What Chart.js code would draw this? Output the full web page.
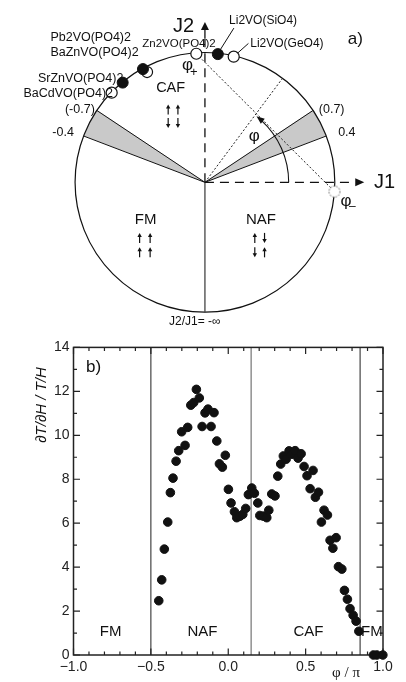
<!DOCTYPE html>
<html>
<head>
<meta charset="utf-8">
<script src="https://cdn.jsdelivr.net/npm/chart.js@4.4.1/dist/chart.umd.min.js"></script>
<style>
  html, body { margin: 0; padding: 0; background: #fff; }
  #wrap { position: relative; width: 406px; height: 682px; overflow: hidden; }
  canvas { position: absolute; left: 0; }
  #top { top: 0; }
  #bottom { top: 335px; }
</style>
</head>
<body>
<div id="wrap">
  <canvas id="top" width="406" height="335"></canvas>
  <canvas id="bottom" width="406" height="347"></canvas>
</div>
<script>
// ---- panel a) : compounds on the J1-J2 circle (angle in degrees from the J1 axis)
const compoundNames = ['Zn2VO(PO4)2', 'Li2VO(SiO4)', 'Li2VO(GeO4)', 'Pb2VO(PO4)2', 'BaZnVO(PO4)2', 'SrZnVO(PO4)2', 'BaCdVO(PO4)2'];
const compoundAngle = [93.8, 84.3, 77.2, 118.5, 117.5, 129.3, 135.9];
const compoundRadius = [1, 1, 1, 1, 0.965, 1, 1];
const compoundFilled = [false, true, false, true, false, true, false];
const wedgeRatio = [0.385, 0.67];          // J2/J1 edges of the grey sectors
const wedgeLabels = ['0.4', '(0.7)', '-0.4', '(-0.7)'];
const phiAngle = 53.5;
const phiPlusAngle = 93.8;
const phiMinusAngle = -4.1;

// ---- panel b) : response vs phi / pi
const phiOverPi = [-0.449, -0.430, -0.413, -0.391, -0.374, -0.357, -0.337, -0.320, -0.301, -0.279,
  -0.262, -0.242, -0.223, -0.206, -0.187, -0.169, -0.150, -0.131, -0.111, -0.092,
  -0.074, -0.057, -0.038, -0.019, 0.001, 0.018, 0.040, 0.055, 0.076, 0.094,
  0.113, 0.130, 0.152, 0.169, 0.191, 0.204, 0.227, 0.249, 0.262, 0.281,
  0.302, 0.320, 0.339, 0.356, 0.374, 0.393, 0.412, 0.432, 0.451, 0.471,
  0.490, 0.509, 0.529, 0.548, 0.563, 0.583, 0.602, 0.619, 0.641, 0.658,
  0.676, 0.697, 0.712, 0.734, 0.751, 0.770, 0.787, 0.807, 0.826, 0.844,
  0.938, 0.960, 0.999];
const dTdH = [2.47, 3.42, 4.82, 6.05, 7.39, 8.05, 8.82, 9.30, 10.16, 9.54,
  10.36, 11.37, 11.49, 12.09, 11.70, 10.40, 11.02, 11.19, 10.40, 11.03,
  9.74, 8.70, 8.55, 9.09, 7.54, 6.92, 6.52, 6.25, 6.32, 6.40,
  6.67, 7.30, 7.60, 7.36, 6.92, 6.35, 6.32, 6.25, 6.59, 7.33,
  7.24, 8.14, 8.69, 9.06, 8.91, 9.29, 9.14, 9.30, 8.96, 9.16,
  8.58, 8.16, 7.57, 8.40, 7.18, 7.41, 6.05, 6.59, 6.37, 5.22,
  4.86, 5.34, 4.02, 3.91, 2.94, 2.54, 2.11, 1.81, 1.54, 1.08,
  0, 0, 0];
const boundaries = [-0.5, 0.148, 0.852];
const boundaryColor = ['#333', '#888', '#333'];
const phaseNames = ['FM', 'NAF', 'CAF', 'FM'];
const phaseLabelX = [-0.76, -0.167, 0.518, 0.928];

const SANS = '"Liberation Sans", Arial, Helvetica, sans-serif';
const SERIF = '"Liberation Serif", "DejaVu Serif", serif';
const rad = d => d * Math.PI / 180;

function arrowHead(ctx, tx, ty, dx, dy, len, half) {
  const n = Math.hypot(dx, dy); dx /= n; dy /= n;
  ctx.beginPath();
  ctx.moveTo(tx, ty);
  ctx.lineTo(tx - dx * len - dy * half, ty - dy * len + dx * half);
  ctx.lineTo(tx - dx * len + dy * half, ty - dy * len - dx * half);
  ctx.closePath();
  ctx.fill();
}

function spin(ctx, x, y, up) {
  const h = 5, s = up ? -1 : 1;
  ctx.beginPath();
  ctx.moveTo(x, y - s * h);
  ctx.lineTo(x, y + s * h - s * 3);
  ctx.stroke();
  arrowHead(ctx, x, y + s * h, 0, s, 4, 2.2);
}

const diagram = {
  id: 'diagram',
  beforeDatasetsDraw(chart) {
    const { ctx, scales: { x, y } } = chart;
    const P = (a, b) => [x.getPixelForValue(a), y.getPixelForValue(b)];
    const [cx, cy] = P(0, 0);
    const R = x.getPixelForValue(1) - cx;
    const onCircle = (deg, r = 1) => P(r * Math.cos(rad(deg)), r * Math.sin(rad(deg)));
    ctx.save();

    // grey sectors
    const lo = Math.atan(wedgeRatio[0]) * 180 / Math.PI;
    const hi = Math.atan(wedgeRatio[1]) * 180 / Math.PI;
    [[lo, hi], [180 - hi, 180 - lo]].forEach(([a1, a2]) => {
      ctx.beginPath();
      ctx.moveTo(cx, cy);
      ctx.arc(cx, cy, R, -rad(a2), -rad(a1));
      ctx.closePath();
      ctx.fillStyle = '#c9c9c9';
      ctx.fill();
      ctx.strokeStyle = '#111';
      ctx.lineWidth = 1;
      [a1, a2].forEach(a => {
        const [ex, ey] = onCircle(a);
        ctx.beginPath(); ctx.moveTo(cx, cy); ctx.lineTo(ex, ey); ctx.stroke();
      });
    });

    // circle
    ctx.beginPath();
    ctx.arc(cx, cy, R, 0, 2 * Math.PI);
    ctx.strokeStyle = '#111';
    ctx.lineWidth = 1.2;
    ctx.stroke();

    // J2/J1 = -inf line
    ctx.beginPath();
    ctx.moveTo(cx, cy); ctx.lineTo(cx, cy + R);
    ctx.strokeStyle = '#444'; ctx.lineWidth = 1.3; ctx.stroke();

    // dashed axes with arrows
    ctx.strokeStyle = '#111'; ctx.fillStyle = '#111'; ctx.lineWidth = 1.3;
    const [j1x] = P(1.138, 0), [j1tip] = P(1.227, 0);
    ctx.setLineDash([9, 6]);
    ctx.beginPath(); ctx.moveTo(cx, cy); ctx.lineTo(j1x, cy); ctx.stroke();
    const [, j2y] = P(0, 1.12), [, j2tip] = P(0, 1.245);
    ctx.beginPath(); ctx.moveTo(cx, cy); ctx.lineTo(cx, j2y); ctx.stroke();
    ctx.setLineDash([]);
    ctx.beginPath(); ctx.moveTo(j1x + 4, cy); ctx.lineTo(j1tip - 4, cy); ctx.stroke();
    arrowHead(ctx, j1tip, cy, 1, 0, 9, 4);
    ctx.beginPath(); ctx.moveTo(cx, j2y); ctx.lineTo(cx, j2tip + 4); ctx.stroke();
    arrowHead(ctx, cx, j2tip, 0, -1, 8, 4);

    // dotted construction lines
    ctx.setLineDash([2, 2]);
    ctx.lineWidth = 1;
    ctx.strokeStyle = '#222';
    const [px1, py1] = onCircle(phiAngle);
    ctx.beginPath(); ctx.moveTo(cx, cy); ctx.lineTo(px1, py1); ctx.stroke();
    const [ax, ay] = onCircle(phiPlusAngle), [bx, by] = onCircle(phiMinusAngle);
    ctx.beginPath(); ctx.moveTo(ax, ay); ctx.lineTo(bx, by); ctx.stroke();
    ctx.setLineDash([]);

    // angle arc phi
    const rArc = 0.645 * R;
    ctx.lineWidth = 1.1;
    ctx.strokeStyle = '#111';
    ctx.beginPath();
    ctx.arc(cx, cy, rArc, 0, -rad(48), true);
    ctx.stroke();
    const tipA = rad(52);
    arrowHead(ctx, cx + rArc * Math.cos(tipA), cy - rArc * Math.sin(tipA),
      -Math.sin(tipA), -Math.cos(tipA), 8, 3.2);

    // leader lines
    ctx.lineWidth = 1;
    [[[0.223, 1.197], [0.112, 1.019]], [[0.335, 1.078], [0.253, 1.004]]].forEach(([p, q]) => {
      const [sx, sy] = P(...p), [ex, ey] = P(...q);
      ctx.beginPath(); ctx.moveTo(sx, sy); ctx.lineTo(ex, ey); ctx.stroke();
    });
    ctx.restore();
  },
  afterDatasetsDraw(chart) {
    const { ctx, scales: { x, y } } = chart;
    const P = (a, b) => [x.getPixelForValue(a), y.getPixelForValue(b)];
    ctx.save();
    ctx.fillStyle = '#111';
    ctx.textBaseline = 'middle';
    const text = (s, a, b, size, align = 'left', font = SANS) => {
      const [tx, ty] = P(a, b);
      ctx.font = size + 'px ' + font;
      ctx.textAlign = align;
      ctx.fillText(s, tx, ty);
    };
    // compound labels
    const labelPos = [[-0.483, 1.078, 11.5], [0.186, 1.257, 12], [0.349, 1.078, 12], [-1.19, 1.123, 12.5],
      [-1.19, 1.004, 12.5], [-1.286, 0.803, 12.5], [-1.398, 0.691, 12.5]];
    compoundNames.forEach((n, i) => text(n, labelPos[i][0], labelPos[i][1], labelPos[i][2]));
    text(wedgeLabels[0], 1.026, 0.387, 12.5);
    text(wedgeLabels[1], 0.877, 0.565, 12.5);
    text(wedgeLabels[2], -1.175, 0.387, 12.5);
    text(wedgeLabels[3], -1.078, 0.565, 12.5);
    text('a)', 1.1, 1.108, 17);
    text('J2', -0.245, 1.212, 20);
    text('J1', 1.301, 0, 20);
    text('CAF', -0.264, 0.729, 14.5, 'center');
    text('FM', -0.457, -0.288, 15, 'center');
    text('NAF', 0.431, -0.288, 15, 'center');
    text('J2/J1= -\u221e', -0.078, -1.078, 12, 'center');
    text('\u03c6', 0.379, 0.357, 17, 'center');
    text('\u03c6', -0.134, 0.907, 17, 'center');
    text('+', -0.085, 0.855, 13, 'center');
    text('\u03c6', 1.086, -0.149, 17, 'center');
    text('\u2013', 1.135, -0.19, 12, 'center');

    // spin patterns
    ctx.strokeStyle = '#111';
    ctx.lineWidth = 1.2;
    const spins = (cols, rows, pattern) => {
      pattern.forEach((row, r) => row.forEach((up, c) => {
        const [sx, sy] = P(cols[c], rows[r]);
        spin(ctx, sx, sy, up);
      }));
    };
    spins([-0.283, -0.208], [0.565, 0.461], [[true, true], [false, false]]);
    spins([-0.503, -0.422], [-0.431, -0.543], [[true, true], [true, true]]);
    spins([0.384, 0.459], [-0.431, -0.543], [[true, false], [false, true]]);
    ctx.restore();
  }
};

// dotted open marker for phi-
const dottedMark = document.createElement('canvas');
dottedMark.width = dottedMark.height = 14;
(() => {
  const d = dottedMark.getContext('2d');
  d.beginPath(); d.arc(7, 7, 5.5, 0, 2 * Math.PI);
  d.fillStyle = '#fff'; d.fill();
  d.setLineDash([1.5, 1.5]); d.strokeStyle = '#555'; d.lineWidth = 1; d.stroke();
})();

const polar = (deg, r) => ({ x: r * Math.cos(rad(deg)), y: r * Math.sin(rad(deg)) });
const filledPts = [], openPts = [];
compoundAngle.forEach((a, i) => (compoundFilled[i] ? filledPts : openPts).push(polar(a, compoundRadius[i])));

new Chart(document.getElementById('top'), {
  type: 'scatter',
  data: {
    datasets: [
      { data: filledPts, backgroundColor: '#111', borderColor: '#111', pointRadius: 5.5, clip: false },
      { data: openPts, backgroundColor: '#fff', borderColor: '#111', borderWidth: 1.2, pointRadius: 5.5, clip: false },
      { data: [polar(phiMinusAngle, 1)], pointStyle: dottedMark, pointRadius: 6, clip: false }
    ]
  },
  options: {
    responsive: false,
    animation: false,
    events: [],
    layout: { padding: 0 },
    plugins: { legend: { display: false }, tooltip: { enabled: false } },
    scales: {
      x: { type: 'linear', display: false, min: -205 / 134.5, max: 201 / 134.5 },
      y: { type: 'linear', display: false, min: -152 / 134.5, max: 183 / 134.5 }
    }
  },
  plugins: [diagram]
});

// ---- panel b)
const frame = {
  id: 'frame',
  beforeDatasetsDraw(chart) {
    const { ctx, chartArea: a, scales: { x, y } } = chart;
    ctx.save();
    boundaries.forEach((b, i) => {
      const px = x.getPixelForValue(b);
      ctx.beginPath(); ctx.moveTo(px, a.top); ctx.lineTo(px, a.bottom);
      ctx.strokeStyle = boundaryColor[i]; ctx.lineWidth = i === 1 ? 1.4 : 1.1; ctx.stroke();
    });
    ctx.strokeStyle = '#222';
    ctx.lineWidth = 1.5;
    ctx.strokeRect(a.left, a.top, a.right - a.left, a.bottom - a.top);
    ctx.lineWidth = 1.2;
    for (let k = -10; k <= 10; k++) {
      const px = x.getPixelForValue(k / 10), len = k % 5 === 0 ? 6.5 : 3.5;
      ctx.beginPath();
      ctx.moveTo(px, a.bottom); ctx.lineTo(px, a.bottom - len);
      ctx.moveTo(px, a.top); ctx.lineTo(px, a.top + len);
      ctx.stroke();
    }
    for (let k = 0; k <= 14; k++) {
      const py = y.getPixelForValue(k), len = k % 2 === 0 ? 6.5 : 3.5;
      ctx.beginPath();
      ctx.moveTo(a.left, py); ctx.lineTo(a.left + len, py);
      ctx.moveTo(a.right, py); ctx.lineTo(a.right - len, py);
      ctx.stroke();
    }
    ctx.fillStyle = '#111';
    ctx.textAlign = 'center';
    ctx.textBaseline = 'middle';
    ctx.font = '15px ' + SANS;
    phaseNames.forEach((n, i) => ctx.fillText(n, x.getPixelForValue(phaseLabelX[i]), y.getPixelForValue(1.04)));
    ctx.restore();
  },
  afterDraw(chart) {
    const { ctx } = chart;
    ctx.save();
    ctx.fillStyle = '#111';
    ctx.textBaseline = 'middle';
    ctx.font = '17px ' + SANS;
    ctx.textAlign = 'left';
    ctx.fillText('b)', 86, 32);
    ctx.font = 'italic 15px ' + SANS;
    ctx.translate(42, 70);
    ctx.rotate(-Math.PI / 2);
    ctx.textAlign = 'center';
    ctx.fillText('\u2202T/\u2202H / T/H', 0, 0);
    ctx.restore();
    ctx.save();
    ctx.fillStyle = '#111';
    ctx.font = '15px ' + SERIF;
    ctx.textAlign = 'center';
    ctx.textBaseline = 'middle';
    ctx.fillText('\u03c6 / \u03c0', 346, 338);
    ctx.restore();
  }
};

const fmt = v => (Math.abs(v) < 1e-9 ? '0.0' : v.toFixed(1).replace('-', '\u2212'));

new Chart(document.getElementById('bottom'), {
  type: 'scatter',
  data: {
    datasets: [{
      data: phiOverPi.map((v, i) => ({ x: v, y: dTdH[i] })),
      backgroundColor: '#111',
      borderColor: '#111',
      pointRadius: 4.3,
      clip: false
    }]
  },
  options: {
    responsive: false,
    animation: false,
    events: [],
    layout: { padding: { top: 10, right: 23, left: 0, bottom: 0 } },
    plugins: { legend: { display: false }, tooltip: { enabled: false } },
    scales: {
      x: {
        type: 'linear', min: -1, max: 1,
        grid: { display: false, drawTicks: false },
        border: { display: false },
        ticks: { stepSize: 0.5, padding: 4, color: '#222', font: { size: 14, family: SANS }, callback: fmt, maxRotation: 0 },
        afterFit: s => { s.height = 27; }
      },
      y: {
        type: 'linear', min: 0, max: 14,
        grid: { display: false, drawTicks: false },
        border: { display: false },
        ticks: { stepSize: 2, padding: 4, color: '#222', font: { size: 14, family: SANS } },
        afterFit: s => { s.width = 73.5; }
      }
    }
  },
  plugins: [frame]
});
</script>
</body>
</html>
